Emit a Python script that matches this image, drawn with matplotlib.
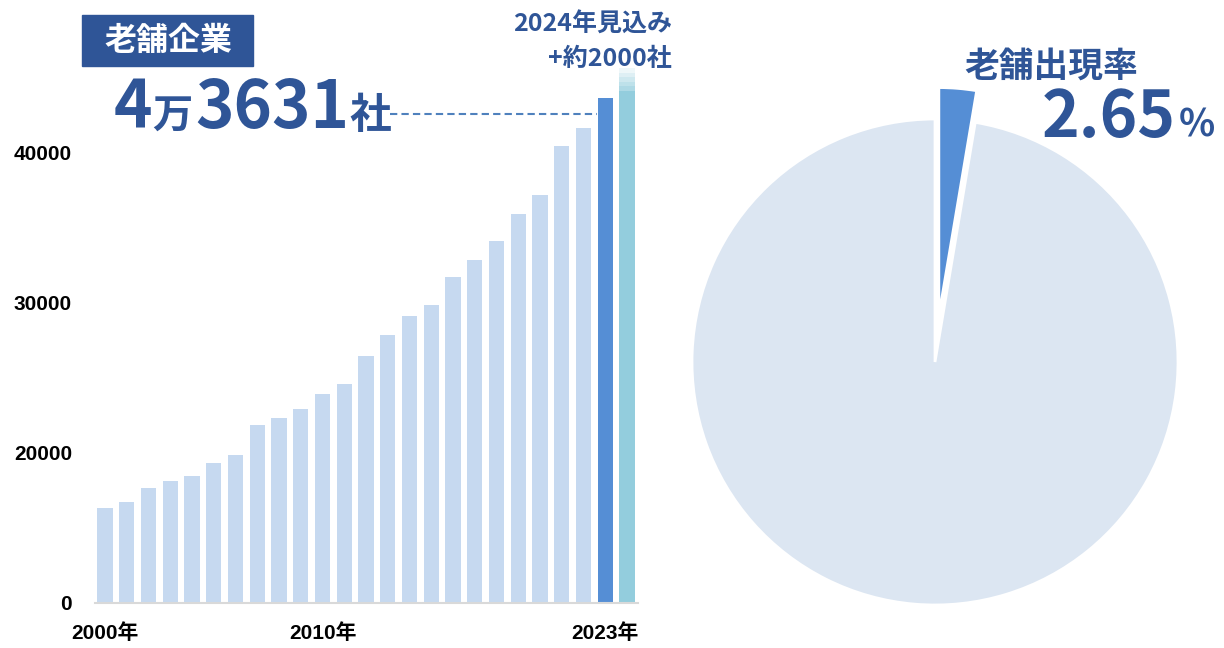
import matplotlib
matplotlib.use("Agg")
import matplotlib.pyplot as plt
from matplotlib.patches import Rectangle
from matplotlib.lines import Line2D

plt.rcParams['font.family'] = ['Noto Sans CJK JP', 'DejaVu Sans']

# data
years = list(range(2000, 2025))
shinise = [16280, 16720, 17630, 18100, 18450, 19280, 19810, 21830, 22280,
           22900, 23900, 24550, 26450, 27810, 29080, 29810, 31720, 32810,
           34080, 35900, 37170, 40450, 41630, 43631, 45631]
xtick_years = [2000, 2010, 2023]
xtick_labels = ['2000年', '2010年', '2023年']
ytick_values = [10000, 20000, 30000, 40000]
ytick_labels = ['0', '20000', '30000', '40000']
rate_pct = 2.65
pie_values = [rate_pct, 100 - rate_pct]

# colours
navy = '#2F5597'
light_bar = '#C6D9F0'
bar_2023 = '#558ED5'
bar_2024 = '#93CDDD'
pie_light = '#DCE6F2'

W, H = 1224, 648
fig = plt.figure(figsize=(W / 100, H / 100), dpi=100)


def fx(x):
    return x / W


def fy(y):
    return 1 - y / H


# ---- bar chart ----
ax = fig.add_axes([fx(95), fy(602.5), (638 - 95) / W, 562.5 / H])
xs = list(range(len(years)))
colors = [light_bar] * (len(years) - 2) + [bar_2023]
ax.bar(xs[:-1], shinise[:-1], width=0.7, color=colors, bottom=0)

# 2024 estimate: solid part then fading top
fade = 1500
solid_top = shinise[-1] - fade
ax.bar(xs[-1], solid_top, width=0.72, color=bar_2024)
steps = 5
for i in range(steps):
    lo = solid_top + fade * i / steps
    ax.bar(xs[-1], fade / steps, bottom=lo, width=0.72, color=bar_2024,
           alpha=0.75 - 0.15 * i, linewidth=0)

ax.set_xlim(-0.46, 24.5)
ax.set_ylim(10000, 47500)
ax.set_xticks([years.index(y) for y in xtick_years])
ax.set_xticklabels(xtick_labels, fontsize=15, fontweight='bold',
                   family=['Liberation Sans', 'Noto Sans CJK JP'])
ax.set_yticks(ytick_values)
ax.set_yticklabels(ytick_labels, fontsize=15, fontweight='bold',
                   family=['Liberation Sans', 'Noto Sans CJK JP'])
ax.tick_params(axis='both', length=0)
ax.tick_params(axis='y', pad=16.5)
ax.tick_params(axis='x', pad=15)
for s in ['top', 'right', 'left']:
    ax.spines[s].set_visible(False)
ax.spines['bottom'].set_color('#D9D9D9')
ax.spines['bottom'].set_linewidth(1.5)

# title box
fig.add_artist(Rectangle((fx(82), fy(66)), (253 - 82) / W, (66 - 15) / H,
                         transform=fig.transFigure, color=navy))
fig.text(fx(168), fy(41), '老舗企業', color='white', fontsize=23,
         fontweight='bold', ha='center', va='center')

# big number 4万3631社
base = fy(128)
fig.text(fx(114), base, '4', color=navy, fontsize=47, fontweight='bold',
         va='baseline', ha='left')
fig.text(fx(152), base, '万', color=navy, fontsize=29, fontweight='bold',
         va='baseline', ha='left')
fig.text(fx(195), base, '3631', color=navy, fontsize=47, fontweight='bold',
         va='baseline', ha='left')
fig.text(fx(349), base, '社', color=navy, fontsize=30, fontweight='bold',
         va='baseline', ha='left')

fig.add_artist(Line2D([fx(390), fx(597)], [fy(114), fy(114)],
                      transform=fig.transFigure, color='#4F81BD', lw=1.5,
                      linestyle=(0, (3.5, 2))))

fig.text(fx(672), fy(25), '2024年見込み', color=navy, fontsize=18,
         fontweight='bold', ha='right', va='center')
fig.text(fx(672), fy(59), '+約2000社', color=navy, fontsize=18,
         fontweight='bold', ha='right', va='center')

# ---- pie ----
side = 2.4 * 243
ax2 = fig.add_axes([fx(935 - side / 2), fy(362 + side / 2), side / W, side / H])
wedges, _ = ax2.pie(pie_values, colors=[bar_2023, pie_light], startangle=90,
                    counterclock=False, explode=[0.19, 0], radius=1,
                    wedgeprops=dict(edgecolor='white', linewidth=2))
wedges[0].set_radius(0.94)
ax2.set_xlim(-1.2, 1.2)
ax2.set_ylim(-1.2, 1.2)
ax2.set_aspect('equal')
ax2.axis('off')

fig.text(fx(1051), fy(66), '老舗出現率', color=navy, fontsize=25,
         fontweight='bold', ha='center', va='center')
fig.text(fx(1176), fy(137), f'{rate_pct:.2f}', color=navy, fontsize=46,
         fontweight='bold', ha='right', va='baseline')
fig.text(fx(1179), fy(137), '%', color=navy, fontsize=27, fontweight='bold',
         ha='left', va='baseline')

fig.savefig('out.png', dpi=100)
